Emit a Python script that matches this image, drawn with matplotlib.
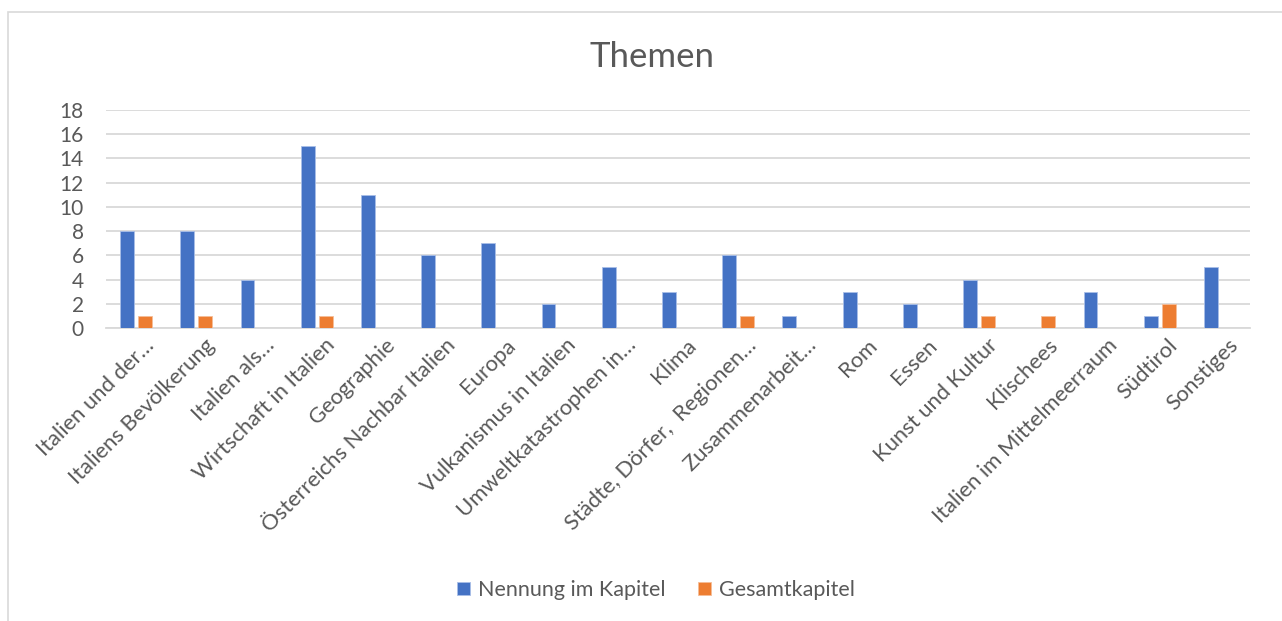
import matplotlib
matplotlib.use("Agg")
import matplotlib.pyplot as plt
import numpy as np
from matplotlib.patches import Rectangle
from matplotlib.transforms import ScaledTranslation

categories = ["Italien und der…", "Italiens Bevölkerung", "Italien als…", "Wirtschaft in Italien",
              "Geographie", "Österreichs Nachbar Italien", "Europa", "Vulkanismus in Italien",
              "Umweltkatastrophen in…", "Klima", "Städte, Dörfer,  Regionen…", "Zusammenarbeit…",
              "Rom", "Essen", "Kunst und Kultur", "Klischees", "Italien im Mittelmeerraum",
              "Südtirol", "Sonstiges"]
nennung = [8, 8, 4, 15, 11, 6, 7, 2, 5, 3, 6, 1, 3, 2, 4, 0, 3, 1, 5]
gesamt = [1, 1, 0, 1, 0, 0, 0, 0, 0, 0, 1, 0, 0, 0, 1, 1, 0, 2, 0]
series_names = ["Nennung im Kapitel", "Gesamtkapitel"]
yticks = [0, 2, 4, 6, 8, 10, 12, 14, 16, 18]

plt.rcParams['font.family'] = ['Lato', 'DejaVu Sans']
txt = "#595959"
fs = 15

fig = plt.figure(figsize=(12.82, 6.21), dpi=100)
fig.patches.append(Rectangle((8/1282, -0.1), 1.1, 1 - 12/621 + 0.1, transform=fig.transFigure,
                             fill=False, edgecolor="#d9d9d9", lw=1.2))
ax = fig.add_axes([106/1282, 1 - 328/621, (1250 - 106)/1282, (328 - 110)/621])

x = np.arange(len(categories))
w = 0.23
off = 0.15
ax.bar(x - off, nennung, w, color="#4472c4", edgecolor="#a9bfe8", lw=0.6, label=series_names[0], zorder=3)
ax.bar(x + off, gesamt, w, color="#ed7d31", edgecolor="#f5bd98", lw=0.6, label=series_names[1], zorder=3)

ax.set_xlim(-0.5, len(categories) - 0.5)
ax.set_ylim(0, 18)
ax.set_yticks(yticks)
ax.set_yticklabels([str(v) for v in yticks], fontsize=fs, color=txt)
ax.yaxis.grid(True, color="#d9d9d9", lw=1.3, zorder=0)
ax.set_xticks(x)
ax.set_xticklabels(categories, rotation=45, ha="right", va="top", rotation_mode="anchor",
                   fontsize=15.8, color=txt)
ax.tick_params(axis="y", length=0, pad=16)
ax.tick_params(axis="x", length=0, pad=5)
for lab in ax.get_xticklabels():
    lab.set_transform(lab.get_transform() + ScaledTranslation(0.08, 0, fig.dpi_scale_trans))
for s in ["top", "right", "left"]:
    ax.spines[s].set_visible(False)
ax.spines["bottom"].set_color("#d9d9d9")
ax.spines["bottom"].set_linewidth(1.3)

fig.text(652/1282, 1 - 57/621, "Themen", ha="center", va="center", fontsize=25, color=txt)

fig.legend(loc="center", bbox_to_anchor=(656/1282, 1 - 590/621), ncol=2, frameon=False,
           fontsize=15.5, labelcolor=txt, handlelength=0.6, handleheight=0.6, columnspacing=1.5,
           handletextpad=0.4)

fig.savefig("out.png", dpi=100, facecolor="white")
